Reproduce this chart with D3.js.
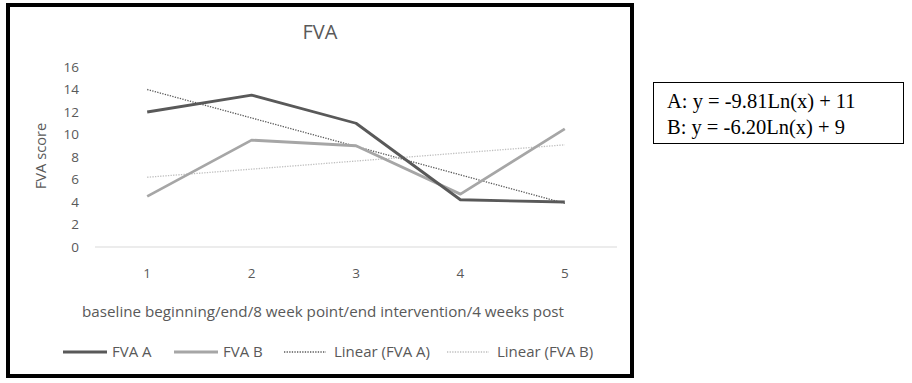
<!DOCTYPE html>
<html>
<head>
<meta charset="utf-8">
<script src="https://cdn.jsdelivr.net/npm/d3@7"></script>
<style>
  body { margin: 0; background: #fff; }
  svg text { font-family: "Open Sans", "Liberation Sans", sans-serif; }
</style>
</head>
<body>
<svg id="chart" width="912" height="383"></svg>
<script>
  // Data
  const categories = [1, 2, 3, 4, 5];
  const fvaA = [12, 13.5, 11, 4.2, 4];
  const fvaB = [4.5, 9.5, 9, 4.7, 10.5];
  const yTicks = [0, 2, 4, 6, 8, 10, 12, 14, 16];
  const equations = ["A: y = -9.81Ln(x) + 11", "B: y = -6.20Ln(x) + 9"];

  const svg = d3.select("#chart");
  const textColor = "#595959";

  // outer frame
  svg.append("rect")
    .attr("x", 8).attr("y", 5)
    .attr("width", 624).attr("height", 371)
    .attr("fill", "white")
    .attr("stroke", "black")
    .attr("stroke-width", 4);

  const xScale = d3.scaleBand().domain(categories).range([95, 617]);
  const yScale = d3.scaleLinear().domain([0, 16]).range([247, 67]);
  const cx = (d) => xScale(d) + xScale.bandwidth() / 2;

  // title
  svg.append("text")
    .attr("x", 320).attr("y", 39)
    .attr("text-anchor", "middle")
    .attr("fill", textColor)
    .attr("font-size", 20)
    .text("FVA");

  // y ticks
  svg.selectAll(".ytick")
    .data(yTicks)
    .enter()
    .append("text")
    .attr("class", "ytick")
    .attr("x", 79)
    .attr("y", (d) => yScale(d) + 4.8)
    .attr("text-anchor", "end")
    .attr("fill", textColor)
    .attr("font-size", 13.5)
    .text((d) => d);

  // baseline gridline
  svg.append("line")
    .attr("x1", 95).attr("x2", 617)
    .attr("y1", yScale(0)).attr("y2", yScale(0))
    .attr("stroke", "#d9d9d9")
    .attr("stroke-width", 1);

  // x ticks
  svg.selectAll(".xtick")
    .data(categories)
    .enter()
    .append("text")
    .attr("class", "xtick")
    .attr("x", cx)
    .attr("y", 278)
    .attr("text-anchor", "middle")
    .attr("fill", textColor)
    .attr("font-size", 13.5)
    .text((d) => d);

  // axis titles
  svg.append("text")
    .attr("x", 323).attr("y", 317)
    .attr("text-anchor", "middle")
    .attr("fill", textColor)
    .attr("font-size", 15.2)
    .text("baseline beginning/end/8 week point/end intervention/4 weeks post");

  svg.append("text")
    .attr("transform", "translate(46,156) rotate(-90)")
    .attr("text-anchor", "middle")
    .attr("fill", textColor)
    .attr("font-size", 14.7)
    .text("FVA score");

  // linear trend (least squares) from the data
  function trend(values) {
    const mx = d3.mean(categories);
    const my = d3.mean(values);
    const slope = d3.sum(categories, (x, i) => (x - mx) * (values[i] - my)) /
      d3.sum(categories, (x) => (x - mx) ** 2);
    return categories.map((x) => my + slope * (x - mx));
  }

  const line = d3.line()
    .x((d, i) => cx(categories[i]))
    .y((d) => yScale(d));

  const series = [
    { name: "FVA A", values: fvaA, color: "#595959", width: 2.8, dash: null },
    { name: "FVA B", values: fvaB, color: "#a6a6a6", width: 2.8, dash: null },
    { name: "Linear (FVA A)", values: trend(fvaA), color: "#595959", width: 1.3, dash: "1.3,1.3" },
    { name: "Linear (FVA B)", values: trend(fvaB), color: "#bfbfbf", width: 1.3, dash: "1.3,1.3" },
  ];

  const drawOrder = [2, 3, 1, 0];
  drawOrder.forEach((k) => {
    const s = series[k];
    svg.append("path")
      .datum(s.values)
      .attr("d", line)
      .attr("fill", "none")
      .attr("stroke", s.color)
      .attr("stroke-width", s.width)
      .attr("stroke-linejoin", "round")
      .attr("stroke-dasharray", s.dash);
  });

  // legend
  const legendX = [63, 174, 284, 447];
  const legend = svg.selectAll(".legend")
    .data(series)
    .enter()
    .append("g")
    .attr("class", "legend")
    .attr("transform", (d, i) => `translate(${legendX[i]}, 352)`);

  legend.append("line")
    .attr("x1", 0).attr("x2", (d, i) => (i < 2 ? 44 : 42))
    .attr("y1", 0).attr("y2", 0)
    .attr("stroke", (d) => d.color)
    .attr("stroke-width", (d) => d.width)
    .attr("stroke-dasharray", (d) => d.dash);

  legend.append("text")
    .attr("x", (d, i) => (i < 2 ? 49 : 50))
    .attr("y", 5)
    .attr("fill", textColor)
    .attr("font-size", 15)
    .text((d) => d.name);

  // equation box
  svg.append("rect")
    .attr("x", 653.5).attr("y", 82.5)
    .attr("width", 250).attr("height", 61)
    .attr("fill", "white")
    .attr("stroke", "black")
    .attr("stroke-width", 1);

  svg.selectAll(".eq")
    .data(equations)
    .enter()
    .append("text")
    .attr("class", "eq")
    .attr("x", 667)
    .attr("y", (d, i) => 108 + i * 25.5)
    .style("font-family", "'Liberation Serif', 'Times New Roman', serif")
    .attr("font-size", 20.5)
    .attr("fill", "black")
    .text((d) => d);
</script>
</body>
</html>
